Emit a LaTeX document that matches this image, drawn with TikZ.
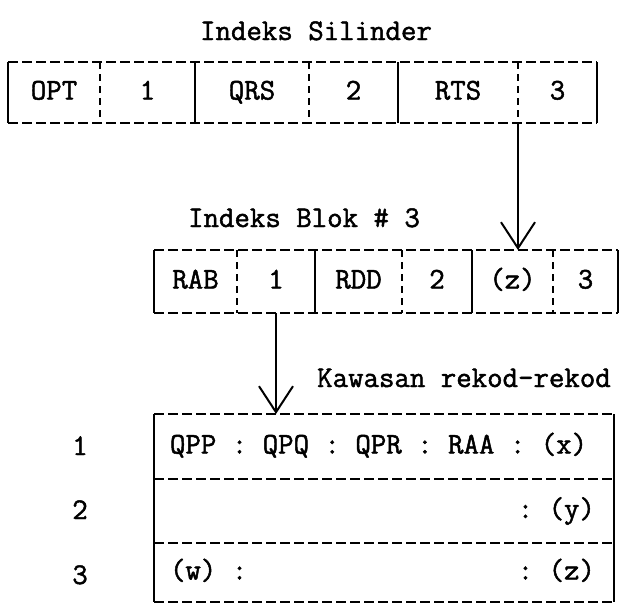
\documentclass[tikz,border=0pt]{standalone}
\usepackage{fontspec}
\setmonofont{Latin Modern Mono}[FakeBold=1.6]
\usepackage{tikz}
\usetikzlibrary{arrows.meta}

\begin{document}
\begin{tikzpicture}[x=1pt, y=-1pt,
  every node/.style={font=\ttfamily\bfseries\fontsize{30}{34}\selectfont, inner sep=0pt, outer sep=0pt, text height=19pt, text depth=5pt},
  topcell/.style={minimum height=61pt},
  midcell/.style={minimum height=63pt},
  solidline/.style={line width=2.4pt},
  dashline/.style={line width=2.4pt, dash pattern=on 10pt off 4pt},
  splitline/.style={line width=2pt, dash pattern=on 7pt off 5pt},
  pointer/.style={line width=2pt, -{Straight Barb[length=26pt, width=34pt]}}]

\useasboundingbox (0,0) rectangle (621,608);

% titles

\node (silinder) at (316, 33) {Indeks Silinder};
\node (blok) at (304, 220) {Indeks Blok \# 3};
\node (kawasan) at (464, 380) {Kawasan rekod-rekod};

% cylinder index

\node[topcell, minimum width=92pt] (opt) at (54, 92.5) {OPT};
\node[topcell, minimum width=95pt] (t1) at (147.5, 92.5) {1};
\node[topcell, minimum width=114pt] (qrs) at (252, 92.5) {QRS};
\node[topcell, minimum width=89pt] (t2) at (353.5, 92.5) {2};
\node[topcell, minimum width=120pt] (rts) at (458, 92.5) {RTS};
\node[topcell, minimum width=79pt] (t3) at (557.5, 92.5) {3};

\draw[dashline] (opt.north west) -- (t3.north east);
\draw[dashline] (opt.south west) -- (t3.south east);
\draw[solidline] (opt.north west) -- (opt.south west);
\draw[solidline] (t1.north east) -- (t1.south east);
\draw[solidline] (t2.north east) -- (t2.south east);
\draw[solidline] (t3.north east) -- (t3.south east);
\draw[splitline] (opt.north east) -- (opt.south east);
\draw[splitline] (qrs.north east) -- (qrs.south east);
\draw[splitline] (rts.north east) -- (rts.south east);

% block index

\node[midcell, minimum width=83pt] (rab) at (195.5, 281.5) {RAB};
\node[midcell, minimum width=78pt] (b1) at (276, 281.5) {1};
\node[midcell, minimum width=87pt] (rdd) at (358.5, 281.5) {RDD};
\node[midcell, minimum width=70pt] (b2) at (437, 281.5) {2};
\node[midcell, minimum width=81pt] (zz) at (512.5, 281.5) {(z)};
\node[midcell, minimum width=65pt] (b3) at (585.5, 281.5) {3};

\draw[dashline] (rab.north west) -- (b3.north east);
\draw[dashline] (rab.south west) -- (b3.south east);
\draw[solidline] (rab.north west) -- (rab.south west);
\draw[solidline] (b1.north east) -- (b1.south east);
\draw[solidline] (b2.north east) -- (b2.south east);
\draw[solidline] (b3.north east) -- (b3.south east);
\draw[splitline] (rab.north east) -- (rab.south east);
\draw[splitline] (rdd.north east) -- (rdd.south east);
\draw[splitline] (zz.north east) -- (zz.south east);

% record area

\node[minimum width=460pt, minimum height=65pt] (rec1) at (384, 446.5) {};
\node[minimum width=460pt, minimum height=64pt] (rec2) at (384, 511) {};
\node[minimum width=460pt, minimum height=59pt] (rec3) at (384, 572.5) {};

\node[anchor=west] (x) at ([xshift=16pt]rec1.west) {QPP : QPQ : QPR : RAA : (x)};
\node[anchor=east] (y) at ([xshift=-19pt]rec2.east) {: (y)};
\node[anchor=west] (w) at ([xshift=16pt]rec3.west) {(w) :};
\node[anchor=east] (z) at ([xshift=-19pt]rec3.east) {: (z)};

\node (n1) at (80, 448) {1};
\node (n2) at (80, 512) {2};
\node (n3) at (80, 577) {3};

\draw[dashline] (rec1.north west) -- (rec1.north east);
\draw[dashline] (rec2.north west) -- (rec2.north east);
\draw[dashline] (rec3.north west) -- (rec3.north east);
\draw[dashline] (rec3.south west) -- (rec3.south east);
\draw[solidline] (rec1.north west) -- (rec3.south west);
\draw[solidline] (rec1.north east) -- (rec3.south east);

% pointers

\draw[pointer] (rts.south east) -- (rts.south east |- zz.north);
\draw[pointer] (b1.south) -- (b1.south |- rec1.north);

\end{tikzpicture}
\end{document}
